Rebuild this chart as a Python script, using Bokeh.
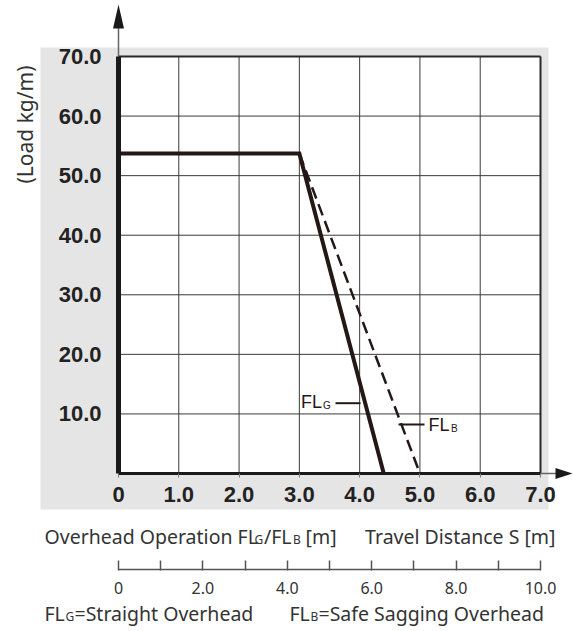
import math
from bokeh.plotting import figure
from bokeh.models import (Range1d, LinearAxis, FixedTicker, CustomJSTickFormatter, Label)
from bokeh.embed import file_html
from bokeh.resources import INLINE

# ---- data ----
fl_g_x = [0.0, 3.0, 4.4]          # straight overhead FL_G  [m]
fl_g_y = [53.7, 53.7, 0.0]        # load [kg/m]
fl_b_x = [3.0, 5.0]               # safe sagging overhead FL_B [m]
fl_b_y = [53.7, 0.0]
x_ticks = [0, 1, 2, 3, 4, 5, 6, 7]
y_ticks = [10, 20, 30, 40, 50, 60, 70]
s_major = [0, 2, 4, 6, 8, 10]     # travel distance S [m]
s_minor = [1, 3, 5, 7, 9]
x_max, y_max, s_max = 7, 70, 10

# ---- layout (canvas pixels) ----
W, H = 573, 631
PX0, PX1 = 118, 540     # pixel of x=0 and x=7
PY0, PY1 = 473, 56      # pixel of y=0 and y=70
SX = (PX1 - PX0) / x_max
SY = (PY0 - PY1) / y_max

def X(px):
    return (px - PX0) / SX

def Y(py):
    return (PY0 - py) / SY

p = figure(width=W, height=H, output_backend="svg", toolbar_location=None, title=None,
           x_range=Range1d(X(0), X(W)), y_range=Range1d(Y(H), Y(0)),
           min_border=0, x_axis_type=None, y_axis_type=None)
p.min_border_left = p.min_border_right = p.min_border_top = p.min_border_bottom = 0
p.outline_line_color = None
p.background_fill_color = "white"
p.border_fill_color = "white"
p.grid.visible = False

INK = "#231815"

# gray panel and white plotting area
p.quad(left=[X(40)], right=[X(548)], top=[Y(47)], bottom=[Y(509)],
       fill_color="#e5e5e5", line_color=None)
p.quad(left=[0], right=[x_max], top=[y_max], bottom=[0], fill_color="white", line_color=None)

# grid lines at the tick positions
gx = [t for t in x_ticks if 0 < t < x_max]
gy = [t for t in y_ticks if 0 < t < y_max]
p.segment(x0=gx, y0=[0] * len(gx), x1=gx, y1=[y_max] * len(gx),
          line_color="#3a3a3a", line_width=1)
p.segment(x0=[0] * len(gy), y0=gy, x1=[x_max] * len(gy), y1=gy,
          line_color="#3a3a3a", line_width=1)
# top and right frame
p.segment(x0=[0, x_max], y0=[y_max, 0], x1=[x_max, x_max], y1=[y_max, y_max],
          line_color="#2a2a2a", line_width=2)

# axis arrows
p.segment(x0=[0, x_max], y0=[y_max, 0], x1=[0, X(558)], y1=[Y(26), 0],
          line_color="#666", line_width=1.5)
p.patch([X(118 - 5.5), X(118), X(118 + 5.5)], [Y(28), Y(4), Y(28)],
        fill_color="#1a1a1a", line_color=None)
p.patch([X(555), X(572), X(555)], [Y(473 - 5.5), Y(473), Y(473 + 5.5)],
        fill_color="#1a1a1a", line_color=None)

# curves
p.line(fl_b_x, fl_b_y, line_color=INK, line_width=2.5, line_dash="12 6")
p.line(fl_g_x, fl_g_y, line_color=INK, line_width=4, line_join="miter")

# leader lines for FL_G / FL_B
p.segment(x0=[X(335), X(398)], y0=[Y(402.7), Y(424)],
          x1=[X(360), X(424)], y1=[Y(402.7), Y(424)],
          line_color=INK, line_width=2)

fmt = CustomJSTickFormatter(code="return tick == 0 ? '0' : tick.toFixed(1);")

# main x axis (at y = 0)
xa = LinearAxis(ticker=FixedTicker(ticks=x_ticks), formatter=fmt, fixed_location=0, bounds=(0, x_max))
xa.axis_line_width = 3
xa.axis_line_color = "#1a1a1a"
xa.major_tick_in = 0
xa.major_tick_out = 4
xa.major_tick_line_color = "#777"
xa.minor_tick_line_color = None
xa.major_label_text_font = "Liberation Sans"
xa.major_label_text_font_style = "bold"
xa.major_label_text_font_size = "22px"
xa.major_label_text_color = "#222"
xa.major_label_standoff = 9
p.add_layout(xa, "below")

# ruler axis (travel distance S)
p.extra_x_ranges = {"s": Range1d(X(0) * s_max / x_max, X(W) * s_max / x_max)}
sa = LinearAxis(x_range_name="s", ticker=FixedTicker(ticks=s_major, minor_ticks=s_minor),
                formatter=fmt, fixed_location=Y(569), bounds=(0, s_max))
sa.axis_line_color = "#555"
sa.axis_line_width = 1.5
sa.major_tick_in = 9
sa.major_tick_out = 1
sa.minor_tick_in = 9
sa.minor_tick_out = 1
sa.major_tick_line_color = "#555"
sa.minor_tick_line_color = "#555"
sa.major_tick_line_width = 1.5
sa.minor_tick_line_width = 1.5
sa.major_label_text_font = "Noto Sans"
sa.major_label_text_font_size = "16px"
sa.major_label_text_color = "#333"
sa.major_label_standoff = 11
p.add_layout(sa, "below")

# y axis (at x = 0)
ya = LinearAxis(ticker=FixedTicker(ticks=y_ticks), formatter=fmt, fixed_location=0, bounds=(0, y_max))
ya.axis_line_width = 5
ya.axis_line_color = "#1a1a1a"
ya.major_tick_in = 0
ya.major_tick_out = 0
ya.minor_tick_line_color = None
ya.major_label_text_font = "Liberation Sans"
ya.major_label_text_font_style = "bold"
ya.major_label_text_font_size = "22px"
ya.major_label_text_color = "#222"
ya.major_label_standoff = 17
p.add_layout(ya, "left")


def lab(text, x, y, size, font="Liberation Sans", align="left", color=INK, angle=0.0):
    # y is the vertical centre of the capitals (page pixels converted to data)
    p.add_layout(Label(x=x, y=y, text=text, text_font=font, text_font_size=size,
                       text_color=color, text_align=align, text_baseline="middle",
                       angle=angle))

lab("FL", X(300.5), Y(401), "18px")
lab("G", X(322.5), Y(404.5), "10px")
lab("FL", X(428), Y(424), "18px")
lab("B", X(450.5), Y(427.5), "10px")

# y title
lab("(Load kg/m)", X(24.5), Y(124), "21px", font="Noto Sans", align="center",
    color="#333", angle=math.pi / 2)

# bottom texts
TC = "#333"
F = "19.5px"
f = "12px"
r1, r1s = Y(536), Y(538.5)
lab("Overhead Operation FL", X(44), r1, F, font="Noto Sans", color=TC)
lab("G", X(254), r1s, f, font="Noto Sans", color=TC)
lab("/FL", X(263.5), r1, F, font="Noto Sans", color=TC)
lab("B", X(292.5), r1s, f, font="Noto Sans", color=TC)
lab("[m]", X(305), r1, F, font="Noto Sans", color=TC)
lab("Travel Distance S [m]", X(555), r1, F, font="Noto Sans", align="right", color=TC)

r3, r3s = Y(613), Y(615.5)
lab("FL", X(44), r3, F, font="Noto Sans", color=TC)
lab("G", X(65), r3s, f, font="Noto Sans", color=TC)
lab("=Straight Overhead", X(74), r3, F, font="Noto Sans", color=TC)
lab("FL", X(289), r3, F, font="Noto Sans", color=TC)
lab("B", X(310), r3s, f, font="Noto Sans", color=TC)
lab("=Safe Sagging Overhead", X(318), r3, F, font="Noto Sans", color=TC)

open("out.html", "w").write(file_html(p, INLINE))
